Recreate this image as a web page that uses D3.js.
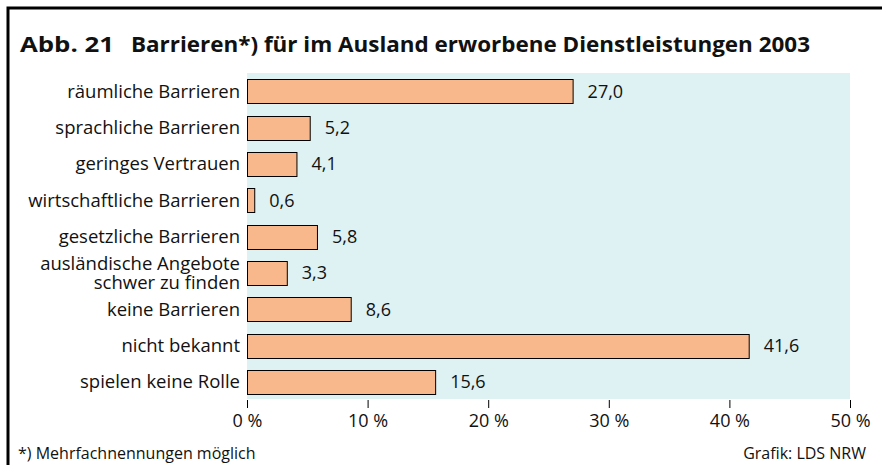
<!DOCTYPE html>
<html>
<head>
<meta charset="utf-8">
<script src="https://cdn.jsdelivr.net/npm/d3@7"></script>
<style>
  body { margin: 0; background: #fff; }
  svg { display: block; font-family: "Open Sans", "Noto Sans", sans-serif; }
</style>
</head>
<body>
<svg id="chart" width="882" height="465"></svg>
<script>
// categories (top to bottom) and their shares in percent
const categories = [
    ["räumliche Barrieren"],
    ["sprachliche Barrieren"],
    ["geringes Vertrauen"],
    ["wirtschaftliche Barrieren"],
    ["gesetzliche Barrieren"],
    ["ausländische Angebote", "schwer zu finden"],
    ["keine Barrieren"],
    ["nicht bekannt"],
    ["spielen keine Rolle"]
];
const values = [27.0, 5.2, 4.1, 0.6, 5.8, 3.3, 8.6, 41.6, 15.6];
const ticks = [0, 10, 20, 30, 40, 50];

const svg = d3.select("#chart");

// frame: thick line on top and left
svg.append("path")
    .attr("d", "M8,465 V8 H882")
    .attr("fill", "none")
    .attr("stroke", "#000")
    .attr("stroke-width", 3);

// title, number and text set apart
svg.append("text")
    .attr("x", 20)
    .attr("y", 52)
    .style("font-size", "21px")
    .style("font-weight", "bold")
    .attr("fill", "#111")
    .attr("textLength", 94)
    .attr("lengthAdjust", "spacingAndGlyphs")
    .text("Abb. 21");
svg.append("text")
    .attr("x", 131)
    .attr("y", 52)
    .style("font-size", "21px")
    .style("font-weight", "bold")
    .attr("fill", "#111")
    .attr("textLength", 679)
    .attr("lengthAdjust", "spacingAndGlyphs")
    .text("Barrieren*) für im Ausland erworbene Dienstleistungen 2003");

const plotLeft = 247, plotRight = 850, plotTop = 73, plotBottom = 400;

const x = d3.scaleLinear().domain([0, 50]).range([plotLeft, plotRight]);
const y = d3.scaleBand()
    .domain(d3.range(values.length))
    .range([plotTop, plotBottom])
    .paddingInner(0.34)
    .paddingOuter(0.17);

// plot background
svg.append("rect")
    .attr("x", plotLeft)
    .attr("y", plotTop)
    .attr("width", plotRight - plotLeft)
    .attr("height", plotBottom - plotTop - 1)
    .attr("fill", "#def1f3");

// bars
svg.append("g").selectAll("rect")
    .data(values)
    .enter()
    .append("rect")
    .attr("x", x(0) + 0.5)
    .attr("y", (d, i) => Math.round(y(i)) + 0.5)
    .attr("width", d => x(d) - x(0))
    .attr("height", Math.round(y.bandwidth()))
    .attr("fill", "#f9b88b")
    .attr("stroke", "#000")
    .attr("stroke-width", 1);

// value labels
svg.append("g").selectAll("text")
    .data(values)
    .enter()
    .append("text")
    .attr("x", d => x(d) + 15)
    .attr("y", (d, i) => y(i) + y.bandwidth() / 2)
    .attr("dy", "0.36em")
    .style("font-size", "18px")
    .attr("fill", "#111")
    .text(d => d3.format(".1f")(d).replace(".", ","));

// category labels
const lab = svg.append("g").selectAll("text")
    .data(categories)
    .enter()
    .append("text")
    .attr("x", 240)
    .attr("y", (d, i) => y(i) + y.bandwidth() / 2)
    .attr("text-anchor", "end")
    .style("font-size", "18.5px")
    .attr("fill", "#111");

lab.selectAll("tspan")
    .data(d => d.map(t => ({ t: t, n: d.length })))
    .enter()
    .append("tspan")
    .attr("x", 240)
    .attr("dy", (d, i) => i === 0 ? (0.36 - (d.n - 1) * 0.52) + "em" : "1.04em")
    .text(d => d.t);

// x axis: ticks only, no base line
const axis = d3.axisBottom(x)
    .tickValues(ticks)
    .tickSize(8)
    .tickFormat(d => d + " %");

const ax = svg.append("g")
    .attr("transform", "translate(0," + plotBottom + ")")
    .call(axis);
ax.select(".domain").remove();
ax.selectAll(".tick line").attr("stroke", "#000");
ax.selectAll(".tick text")
    .attr("y", 14)
    .attr("dy", "0.71em")
    .style("font-size", "18px")
    .style("font-family", "'Open Sans', 'Noto Sans', sans-serif")
    .attr("fill", "#111");

// footnotes
svg.append("text")
    .attr("x", 18)
    .attr("y", 459)
    .style("font-size", "16px")
    .attr("fill", "#111")
    .text("*) Mehrfachnennungen möglich");

svg.append("text")
    .attr("x", 866)
    .attr("y", 459)
    .attr("text-anchor", "end")
    .style("font-size", "16px")
    .attr("fill", "#111")
    .text("Grafik: LDS NRW");
</script>
</body>
</html>
